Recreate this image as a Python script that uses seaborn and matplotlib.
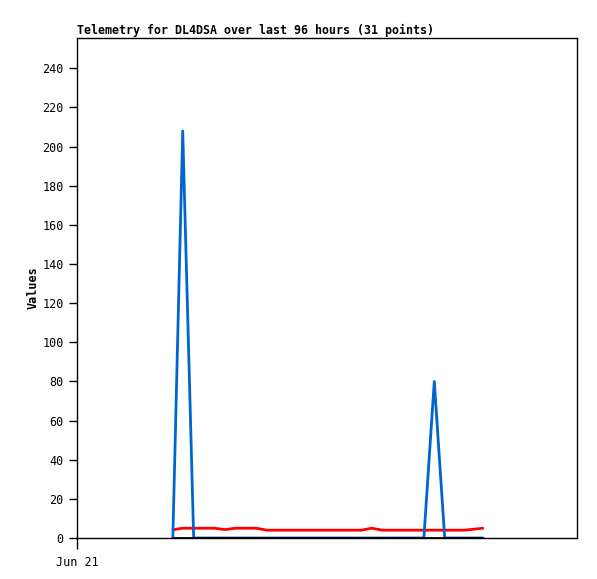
import numpy as np
import pandas as pd
import seaborn as sns
import matplotlib
matplotlib.use("Agg")
import matplotlib.pyplot as plt

# hours since Jun 21 00:00 (31 points)
hours = [18.4, 20.3, 22.4, 24.4, 26.4, 28.4, 30.4, 32.4, 34.4, 36.5, 38.5,
         40.5, 42.5, 44.5, 46.5, 48.5, 50.5, 52.5, 54.6, 56.6, 58.6, 60.6,
         62.6, 64.6, 66.6, 68.6, 70.6, 72.6, 74.4, 76.2, 77.9]
blue_vals = [0, 208, 0, 0, 0, 0, 0, 0, 0, 0, 0, 0, 0, 0, 0, 0, 0, 0, 0, 0,
             0, 0, 0, 0, 0, 80, 0, 0, 0, 0, 0]
red_vals = [4.2, 5, 5, 5, 5, 4.3, 5, 5, 5, 4, 4, 4, 4, 4, 4, 4, 4, 4, 4, 5,
            4, 4, 4, 4, 4, 4, 4, 4, 4, 4.5, 5]
black_vals = [0] * 31

x_ticks = [0]
x_labels = ["Jun 21"]

df = pd.DataFrame({"hours": hours, "blue": blue_vals, "red": red_vals, "black": black_vals})

sns.set_style("white")
plt.rcParams["font.family"] = ["DejaVu Sans Mono"]
plt.rcParams["text.color"] = "black"
plt.rcParams["axes.labelcolor"] = "black"
plt.rcParams["xtick.color"] = "black"
plt.rcParams["ytick.color"] = "black"

fig = plt.figure(figsize=(5.97, 5.79), dpi=100)
ax = fig.add_axes([77 / 597, 1 - 538 / 579, 500 / 597, 500 / 579])

sns.lineplot(data=df, x="hours", y="red", color="#ff0000", linewidth=2, ax=ax)
sns.lineplot(data=df, x="hours", y="blue", color="#0066cc", linewidth=2, ax=ax)
sns.lineplot(data=df, x="hours", y="black", color="#000000", linewidth=2, ax=ax)

ax.set_xlim(0, 96)
ax.set_ylim(0, 255.5)
ax.set_yticks(range(0, 241, 20))
ax.set_xticks(x_ticks)
ax.set_xticklabels(x_labels)
ax.tick_params(axis="both", direction="out", length=6, width=1, labelsize=8.5,
               color="black", labelcolor="black", bottom=True, left=True)
ax.tick_params(axis="x", pad=5, length=8)
for s in ax.spines.values():
    s.set_color("black")
    s.set_linewidth(1)

ax.set_xlabel("")
ax.set_ylabel("Values", fontsize=8.5, fontweight="bold", labelpad=2, color="black")
ax.set_title("Telemetry for DL4DSA over last 96 hours (31 points)", loc="left",
             fontsize=8.4, fontweight="bold", pad=3, color="black")

fig.savefig("out.png", dpi=100)
